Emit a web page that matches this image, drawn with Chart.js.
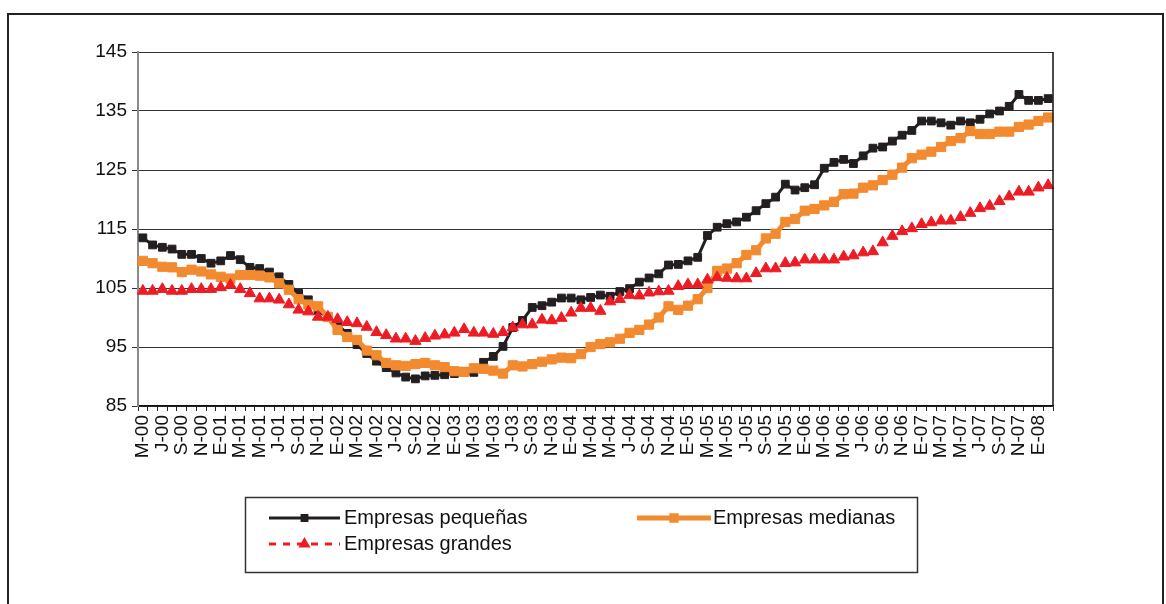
<!doctype html>
<html>
<head>
<meta charset="utf-8">
<title>Empresas pequeñas, medianas y grandes</title>
<script src="https://cdn.jsdelivr.net/npm/chart.js@4.4.1/dist/chart.umd.min.js"></script>
<style>
  body { margin: 0; background: #fff; }
  #wrap { position: relative; width: 1166px; height: 604px; overflow: hidden; }
  #canvas { position: absolute; left: 0; top: 0; }
  #frame { position: absolute; left: 7px; top: 13px; width: 1153px; height: 620px; border: 2px solid #222; pointer-events: none; }
</style>
</head>
<body>
<div id="wrap">
  <canvas id="canvas" width="1166" height="604"></canvas>
  <div id="frame"></div>
</div>
<script>
// monthly, May 2000 .. Feb 2008 (E = enero)
var months = [
  'M-00','J-00','J-00','A-00','S-00','O-00','N-00','D-00',
  'E-01','F-01','M-01','A-01','M-01','J-01','J-01','A-01','S-01','O-01','N-01','D-01',
  'E-02','F-02','M-02','A-02','M-02','J-02','J-02','A-02','S-02','O-02','N-02','D-02',
  'E-03','F-03','M-03','A-03','M-03','J-03','J-03','A-03','S-03','O-03','N-03','D-03',
  'E-04','F-04','M-04','A-04','M-04','J-04','J-04','A-04','S-04','O-04','N-04','D-04',
  'E-05','F-05','M-05','A-05','M-05','J-05','J-05','A-05','S-05','O-05','N-05','D-05',
  'E-06','F-06','M-06','A-06','M-06','J-06','J-06','A-06','S-06','O-06','N-06','D-06',
  'E-07','F-07','M-07','A-07','M-07','J-07','J-07','A-07','S-07','O-07','N-07','D-07',
  'E-08','F-08'
];

var yTicks = [85, 95, 105, 115, 125, 135, 145];

var pequenas = [
  113.5, 112.3, 111.9, 111.6, 110.7, 110.7, 110.0, 109.2, 109.6, 110.5,
  109.8, 108.5, 108.3, 107.7, 106.9, 105.6, 104.1, 103.0, 101.2, 100.0,
  98.8, 97.3, 95.4, 93.9, 92.6, 91.5, 90.6, 89.9, 89.6, 90.1,
  90.2, 90.3, 90.5, 90.8, 90.7, 92.4, 93.4, 95.1, 98.3, 99.5,
  101.7, 102.0, 102.6, 103.3, 103.3, 103.0, 103.4, 103.8, 103.6, 104.4,
  104.9, 106.0, 106.7, 107.4, 108.9, 109.0, 109.6, 110.2, 113.9, 115.3,
  115.9, 116.2, 117.0, 118.1, 119.3, 120.4, 122.6, 121.6, 122.0, 122.5,
  125.3, 126.3, 126.8, 126.1, 127.4, 128.7, 128.9, 129.9, 130.9, 131.7,
  133.3, 133.3, 133.0, 132.6, 133.3, 133.0, 133.6, 134.5, 135.0, 135.8,
  137.8, 136.8, 136.8, 137.1
];

var medianas = [
  109.6, 109.2, 108.6, 108.5, 107.7, 108.1, 107.8, 107.3, 106.9, 106.6,
  107.2, 107.2, 107.1, 106.8, 105.8, 104.7, 103.1, 102.2, 101.9, 100.1,
  97.9, 96.7, 96.2, 94.4, 93.6, 92.3, 91.9, 91.8, 92.1, 92.3,
  91.9, 91.6, 90.9, 90.8, 91.4, 91.3, 91.0, 90.5, 91.9, 91.7,
  92.1, 92.5, 92.9, 93.2, 93.1, 93.8, 95.0, 95.5, 95.8, 96.4,
  97.4, 97.9, 98.8, 100.0, 101.9, 101.3, 102.0, 103.1, 105.0, 107.9,
  108.3, 109.2, 110.6, 111.4, 113.4, 114.2, 116.2, 116.7, 118.1, 118.4,
  119.0, 119.6, 120.9, 121.0, 122.0, 122.4, 123.3, 124.2, 125.4, 127.0,
  127.6, 128.1, 128.9, 129.9, 130.4, 131.6, 131.1, 131.1, 131.5, 131.5,
  132.3, 132.7, 133.3, 133.9
];

var grandes = [
  104.5, 104.5, 104.8, 104.5, 104.5, 104.8, 104.8, 104.8, 105.1, 105.5,
  104.8, 104.1, 103.2, 103.2, 103.0, 102.2, 101.3, 101.0, 100.1, 100.1,
  99.7, 99.2, 99.0, 98.4, 97.5, 97.0, 96.4, 96.4, 96.0, 96.5,
  96.9, 97.1, 97.4, 98.0, 97.4, 97.4, 97.2, 97.5, 98.3, 98.8,
  98.8, 99.6, 99.5, 99.9, 100.8, 101.6, 101.6, 101.1, 102.7, 103.1,
  103.8, 103.7, 104.2, 104.4, 104.5, 105.3, 105.6, 105.6, 106.4, 106.8,
  106.7, 106.6, 106.6, 107.5, 108.3, 108.3, 109.2, 109.3, 109.8, 109.8,
  109.8, 109.8, 110.3, 110.5, 111.0, 111.2, 112.7, 113.8, 114.6, 115.1,
  115.8, 116.1, 116.4, 116.4, 117.0, 117.7, 118.5, 118.9, 119.7, 120.5,
  121.3, 121.3, 122.0, 122.4
];

var seriesNames = ['Empresas pequeñas', 'Empresas medianas', 'Empresas grandes'];

var FONT = "'Liberation Sans', Arial, sans-serif";

// boxed legend under the plot + right border of the plot area
var boxLegend = {
  id: 'boxLegend',
  afterDraw: function(chart) {
    var ctx = chart.ctx;
    var area = chart.chartArea;
    ctx.save();
    ctx.strokeStyle = '#111';
    ctx.lineWidth = 1.5;
    ctx.beginPath();
    ctx.moveTo(area.right, area.top);
    ctx.lineTo(area.right, area.bottom);
    ctx.stroke();

    ctx.strokeStyle = '#333';
    ctx.lineWidth = 1.5;
    ctx.strokeRect(245.5, 497.5, 672, 75);

    var slots = [
      { x0: 269, x1: 340, y: 518, tx: 344 },
      { x0: 637, x1: 711, y: 518, tx: 713 },
      { x0: 269, x1: 340, y: 544, tx: 344 }
    ];
    chart.data.datasets.forEach(function(ds, i) {
      var s = slots[i];
      ctx.save();
      ctx.strokeStyle = ds.borderColor;
      ctx.lineWidth = ds.borderWidth;
      ctx.setLineDash(ds.legendDash || []);
      ctx.beginPath();
      ctx.moveTo(s.x0, s.y);
      ctx.lineTo(s.x1, s.y);
      ctx.stroke();
      ctx.restore();

      ctx.save();
      ctx.fillStyle = ds.pointBackgroundColor;
      ctx.strokeStyle = ds.pointBorderColor;
      Chart.helpers.drawPoint(ctx, {
        pointStyle: ds.pointStyle,
        radius: ds.pointRadius - 1,
        rotation: 0,
        borderWidth: 1
      }, (s.x0 + s.x1) / 2, s.y);
      ctx.restore();

      ctx.fillStyle = '#111';
      ctx.font = '20px ' + FONT;
      ctx.textBaseline = 'middle';
      ctx.textAlign = 'left';
      ctx.fillText(ds.label, s.tx, s.y);
    });
    ctx.restore();
  }
};

var config = {
  type: 'line',
  data: {
    labels: months,
    datasets: [{
      label: seriesNames[0],
      data: pequenas,
      borderColor: '#231f20',
      backgroundColor: '#231f20',
      borderWidth: 3,
      pointStyle: 'rect',
      pointRadius: 5.5,
      pointBorderWidth: 1,
      pointBorderColor: '#231f20',
      pointBackgroundColor: '#231f20',
      order: 3
    }, {
      label: seriesNames[1],
      data: medianas,
      borderColor: '#f28a30',
      backgroundColor: '#f28a30',
      borderWidth: 5,
      pointStyle: 'rect',
      pointRadius: 6.5,
      pointBorderWidth: 1,
      pointBorderColor: '#f28a30',
      pointBackgroundColor: '#f28a30',
      order: 2
    }, {
      label: seriesNames[2],
      data: grandes,
      borderColor: '#ed1c24',
      backgroundColor: '#ed1c24',
      borderWidth: 3,
      legendDash: [7, 7],
      showLine: false,
      pointStyle: 'triangle',
      pointRadius: 6.5,
      pointBorderWidth: 1,
      pointBorderColor: '#ed1c24',
      pointBackgroundColor: '#ed1c24',
      order: 1
    }]
  },
  options: {
    responsive: false,
    animation: false,
    layout: { padding: { left: 0, top: 52, right: 113, bottom: 0 } },
    plugins: {
      legend: { display: false },
      tooltip: { enabled: false },
      title: { display: false }
    },
    elements: { line: { tension: 0 } },
    scales: {
      x: {
        type: 'category',
        offset: true,
        afterFit: function(scale) { scale.height = 198; },
        grid: {
          offset: true,
          drawOnChartArea: false,
          drawTicks: true,
          tickLength: 5,
          color: '#222',
          lineWidth: 1
        },
        border: { color: '#111', width: 1.5 },
        ticks: {
          autoSkip: false,
          maxRotation: 90,
          minRotation: 90,
          padding: 4,
          color: '#111',
          font: { family: FONT, size: 19 },
          callback: function(value, index) {
            return index % 2 === 0 ? this.getLabelForValue(value) : '';
          }
        }
      },
      y: {
        min: yTicks[0],
        max: yTicks[yTicks.length - 1],
        afterFit: function(scale) { scale.width = 138; },
        afterBuildTicks: function(scale) {
          scale.ticks = yTicks.map(function(v) { return { value: v }; });
        },
        grid: {
          color: '#333',
          lineWidth: 1,
          tickLength: 6
        },
        border: { color: '#8a8a8a', width: 2 },
        ticks: {
          padding: 5,
          color: '#111',
          font: { family: FONT, size: 19 }
        }
      }
    }
  },
  plugins: [boxLegend]
};

window.onload = function() {
  var ctx = document.getElementById('canvas').getContext('2d');
  window.myLine = new Chart(ctx, config);
};
</script>
</body>
</html>
